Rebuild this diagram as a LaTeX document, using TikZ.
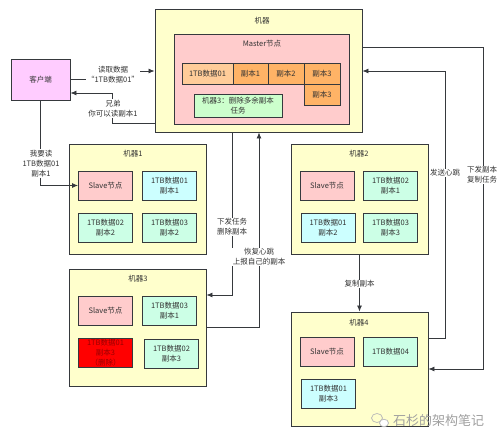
\documentclass[tikz,border=0pt]{standalone}
\usepackage{fontspec}
\setmainfont{Noto Sans CJK SC}
\usetikzlibrary{arrows.meta}
\definecolor{linec}{HTML}{36393D}
\definecolor{textc}{HTML}{333333}
\definecolor{machfill}{HTML}{FFFFCC}
\definecolor{pinkc}{HTML}{FFCCCC}
\definecolor{clientc}{HTML}{FFCCFF}
\definecolor{orangel}{HTML}{FFCC99}
\definecolor{oranged}{HTML}{FFB366}
\definecolor{taskc}{HTML}{CCFFCC}
\definecolor{mintc}{HTML}{CCFFE6}
\definecolor{cyanc}{HTML}{CCFFFF}
\definecolor{redc}{HTML}{FF0000}
\definecolor{redt}{HTML}{990000}

\begin{document}
\begin{tikzpicture}[x=1pt,y=-1pt,font=\fontsize{7.5}{10}\selectfont,text=textc,
  machine/.style={draw=linec,fill=machfill,line width=0.9pt,inner sep=0pt},
  cell/.style={draw=linec,line width=0.9pt,minimum width=54,minimum height=29,align=center,inner sep=0pt},
  slave/.style={cell,fill=pinkc},
  mint/.style={cell,fill=mintc},
  cyan/.style={cell,fill=cyanc},
  link/.style={draw=linec,line width=0.8pt},
  arr/.style={link,-{Latex[length=6pt,width=5pt]}},
  lbl/.style={fill=white,inner sep=1pt,align=center}]
\useasboundingbox (0,0) rectangle (500,440);
% 机器 (Master)
\node[machine,minimum width=207,minimum height=123] (server) at (258.5,70.5) {};
\node (servert) at (262,21) {机器};
\node[machine,fill=pinkc,minimum width=175,minimum height=90] (master) at (261.5,79) {};
\node (mastert) at (262,44) {Master节点};
\node[cell,fill=orangel,minimum width=51,minimum height=21] (d01) at (207.5,73.5) {1TB数据01};
\node[cell,fill=oranged,minimum width=35,minimum height=21] (r1) at (250.5,73.5) {副本1};
\node[cell,fill=oranged,minimum width=36,minimum height=21] (r2) at (286,73.5) {副本2};
\node[cell,fill=oranged,minimum width=36,minimum height=21] (r3a) at (322,73.5) {副本3};
\node[cell,fill=oranged,minimum width=36,minimum height=21] (r3b) at (322,94.5) {副本3};
\node[cell,fill=taskc,minimum width=88,minimum height=23] (task) at (238,105.5) {机器3：删除多余副本\\任务};

% 客户端
\node[cell,fill=clientc,minimum width=59,minimum height=41] (client) at (40.5,79.5) {客户端};

% 机器1
\node[machine,minimum width=137,minimum height=110] (m1) at (137.5,199) {};
\node (m1t) at (133,154) {机器1};
\node[slave] (s1) at (105.5,185.5) {Slave节点};
\node[cyan] (m1a) at (169.5,185.5) {1TB数据01\\副本1};
\node[mint] (m1b) at (105.5,227.5) {1TB数据02\\副本2};
\node[mint] (m1c) at (169.5,227.5) {1TB数据03\\副本2};

% 机器2
\node[machine,minimum width=137,minimum height=110] (m2) at (359.5,199) {};
\node (m2t) at (359,154) {机器2};
\node[slave] (s2) at (327,185.5) {Slave节点};
\node[mint] (m2a) at (390.5,185.5) {1TB数据02\\副本1};
\node[cyan] (m2b) at (328,228) {1TB数据01\\副本2};
\node[mint] (m2c) at (390.5,228) {1TB数据03\\副本3};

% 机器3
\node[machine,minimum width=137,minimum height=117] (m3) at (137.5,327.5) {};
\node (m3t) at (138,279) {机器3};
\node[slave] (s3) at (105.5,311) {Slave节点};
\node[mint] (m3a) at (169.5,311) {1TB数据03\\副本1};
\node[cell,fill=redc,text=redt] (m3b) at (105.5,353) {1TB数据01\\副本3\\（删除）};
\node[mint] (m3c) at (171.5,353.5) {1TB数据02\\副本3};

% 机器4
\node[machine,minimum width=137,minimum height=114] (m4) at (359.5,369) {};
\node (m4t) at (359,323) {机器4};
\node[slave] (s4) at (327,352) {Slave节点};
\node[mint] (m4a) at (390.5,352) {1TB数据04};
\node[cyan] (m4b) at (328.5,394) {1TB数据01\\副本3};

% 连线
\draw[arr] (client.east) -- (113,79.5) |- (server.west |- 0,71);
\node[lbl] (lread) at (113,74.5) {读取数据\\“1TB数据01”};
\draw[arr] (server.west |- 0,123) -| (112,93) -- (client.east |- 0,93);
\node[lbl] (lreply) at (113,108.5) {兄弟\\你可以读副本1};
\draw[arr] (client.south) |- (s1.west);
\node[lbl] (lwant) at (41,163.5) {我要读\\1TB数据01\\副本1};
\draw[arr] (server.south -| 232,0) |- (m3.east |- 0,295);
\node[lbl] (ldel) at (232,227) {下发任务\\删除副本};
\draw[arr] (m3.east |- 0,327) -| (server.south -| 259,0);
\node[lbl] (lbeat3) at (259,257) {恢复心跳\\上报自己的副本};
\draw[arr] (m2.south) -- (m4.north);
\node[lbl] (lcopy) at (359.5,284) {复制副本};
\draw[arr] (m4.east |- 0,338) -| (445,71) -- (server.east |- 0,71);
\node[lbl] (lbeat4) at (445,173) {发送心跳};
\draw[arr] (server.east |- 0,47) -| (483,369) -- (m4.east |- 0,369);
\node[lbl] (ltask) at (482,175) {下发副本\\复制任务};

% 水印
\draw[gray!55,line width=0.7pt] (377,418) ellipse (5.5 and 4.5);
\draw[gray!55,line width=0.7pt,fill=white] (384,423) ellipse (4.5 and 3.8);
\node[text=gray!75,font=\fontsize{13}{13}\selectfont] (mark) at (438.5,421) {石杉的架构笔记};
\end{tikzpicture}
\end{document}
